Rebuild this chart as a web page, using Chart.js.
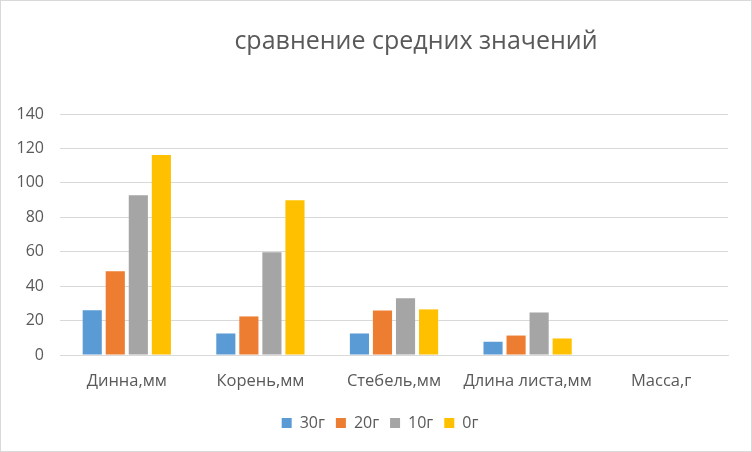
<!DOCTYPE html>
<html>
<head>
<meta charset="utf-8">
<script src="https://cdn.jsdelivr.net/npm/chart.js@4/dist/chart.umd.min.js"></script>
<style>
  html, body { margin: 0; padding: 0; background: #fff; }
  #wrap { width: 750px; height: 450px; border: 1px solid #d9d9d9; }
</style>
</head>
<body>
<div id="wrap"><canvas id="chart" width="750" height="450"></canvas></div>
<script>
// данные
const categories = ['Динна,мм', 'Корень,мм', 'Стебель,мм', 'Длина листа,мм', 'Масса,г'];
const seriesNames = ['30г', '20г', '10г', '0г'];
const s30 = [26, 12.5, 12.5, 7.7, 0];
const s20 = [48.6, 22.4, 25.8, 11.3, 0];
const s10 = [92.8, 59.7, 32.9, 24.7, 0];
const s0 = [116.2, 89.9, 26.5, 9.6, 0];
const colors = ['#5B9BD5', '#ED7D31', '#A5A5A5', '#FFC000'];
const yTicks = [0, 20, 40, 60, 80, 100, 120, 140];

const fontFam = '"Open Sans", "Noto Sans", sans-serif';
const textColor = '#595959';

// в Excel заголовок и легенда чуть сдвинуты вправо
const shiftBlocks = {
    id: 'shiftBlocks',
    afterLayout(chart) {
        chart.titleBlock.left += 103;
        chart.legend.left += 31;
    }
};

new Chart(document.getElementById('chart'), {
    type: 'bar',
    data: {
        labels: categories,
        datasets: [s30, s20, s10, s0].map((d, i) => ({
            label: seriesNames[i],
            data: d,
            backgroundColor: colors[i],
            categoryPercentage: 0.69,
            barPercentage: 0.83
        }))
    },
    options: {
        responsive: false,
        animation: false,
        layout: { padding: { left: 0, right: 23, top: 0, bottom: 10 } },
        plugins: {
            title: {
                display: true,
                text: 'сравнение средних значений',
                color: textColor,
                font: { family: fontFam, size: 25, weight: 'normal' },
                padding: { top: 26, bottom: 57 }
            },
            legend: {
                position: 'bottom',
                labels: {
                    color: textColor,
                    font: { family: fontFam, size: 16 },
                    boxWidth: 10,
                    boxHeight: 10,
                    padding: 11
                }
            },
            tooltip: { enabled: false }
        },
        scales: {
            x: {
                grid: { display: false, drawTicks: false },
                border: { color: '#d9d9d9', width: 1 },
                ticks: {
                    color: textColor,
                    font: { family: fontFam, size: 16.5 },
                    padding: 16,
                    maxRotation: 0
                },
                afterFit: (axis) => { axis.height = 49; }
            },
            y: {
                min: 0,
                max: 140,
                afterBuildTicks: (axis) => { axis.ticks = yTicks.map(v => ({ value: v })); },
                grid: { color: '#d9d9d9', lineWidth: 1, drawTicks: false },
                border: { display: false },
                ticks: {
                    color: textColor,
                    font: { family: fontFam, size: 16 },
                    padding: 16
                },
                afterFit: (axis) => { axis.width = 59; }
            }
        }
    },
    plugins: [shiftBlocks]
});
</script>
</body>
</html>
